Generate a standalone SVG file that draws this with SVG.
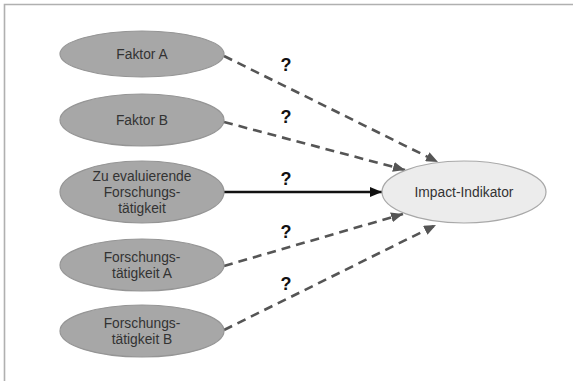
<svg xmlns="http://www.w3.org/2000/svg" width="573" height="381" viewBox="0 0 573 381">
<defs>
<style>
.src{fill:#a7a7a7;stroke:#959595;stroke-width:1.2}
.tgt{fill:#ececec;stroke:#a8a8a8;stroke-width:1.2}
.lbl{font-family:"Liberation Sans",Arial,sans-serif;font-size:13.8px;fill:#333;text-anchor:middle}
.q{font-family:"Liberation Sans",Arial,sans-serif;font-size:18px;font-weight:bold;fill:#111;text-anchor:middle}
.dash{stroke:#555;stroke-width:2.6;stroke-dasharray:9,6;fill:none}
.solid{stroke:#111;stroke-width:2.6;fill:none}
</style>
<marker id="ag" markerWidth="12" markerHeight="10" refX="12" refY="5" orient="auto" markerUnits="userSpaceOnUse">
<path d="M0,0 L12,5 L0,10 Z" fill="#555"/>
</marker>
<marker id="ab" markerWidth="12" markerHeight="10" refX="12" refY="5" orient="auto" markerUnits="userSpaceOnUse">
<path d="M0,0 L12,5 L0,10 Z" fill="#111"/>
</marker>
</defs>
<rect width="573" height="381" fill="#fff"/>
<path d="M4.5,381 V4.5 H573" fill="none" stroke="#b0b0b0" stroke-width="1.6"/>
<g id="connectors">
<path class="dash" d="M224,56 L438,162" marker-end="url(#ag)"/>
<path class="dash" d="M224,122 L405,170" marker-end="url(#ag)"/>
<path class="solid" d="M224,192 L382,192" marker-end="url(#ab)"/>
<path class="dash" d="M224,266 L403,214" marker-end="url(#ag)"/>
<path class="dash" d="M224,330 L436,225" marker-end="url(#ag)"/>
<text class="q" x="286" y="71">?</text>
<text class="q" x="286" y="123">?</text>
<text class="q" x="286" y="185">?</text>
<text class="q" x="286" y="238">?</text>
<text class="q" x="286" y="290">?</text>
</g>
<g id="faktorA">
<ellipse class="src" cx="142" cy="54" rx="82" ry="23"/>
<text class="lbl" x="142" y="59">Faktor A</text>
</g>
<g id="faktorB">
<ellipse class="src" cx="142" cy="120" rx="82" ry="26"/>
<text class="lbl" x="142" y="125">Faktor B</text>
</g>
<g id="zuEval">
<ellipse class="src" cx="142" cy="192" rx="82" ry="31"/>
<text class="lbl" x="142" y="181">Zu evaluierende</text>
<text class="lbl" x="142" y="197">Forschungs-</text>
<text class="lbl" x="142" y="213">tätigkeit</text>
</g>
<g id="forschA">
<ellipse class="src" cx="142" cy="265" rx="82" ry="26"/>
<text class="lbl" x="142" y="262">Forschungs-</text>
<text class="lbl" x="142" y="278">tätigkeit A</text>
</g>
<g id="forschB">
<ellipse class="src" cx="142" cy="331" rx="82" ry="26"/>
<text class="lbl" x="142" y="328">Forschungs-</text>
<text class="lbl" x="142" y="344">tätigkeit B</text>
</g>
<g id="impact">
<ellipse class="tgt" cx="464" cy="192" rx="82" ry="31"/>
<text class="lbl" x="464" y="197">Impact-Indikator</text>
</g>
</svg>
